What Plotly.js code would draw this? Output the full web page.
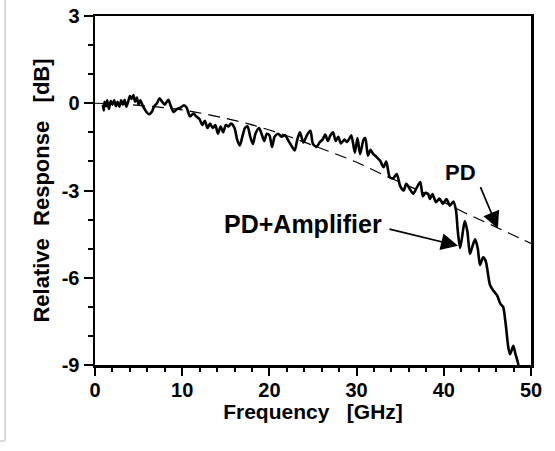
<!DOCTYPE html>
<html>
<head>
<meta charset="utf-8">
<script src="https://cdn.plot.ly/plotly-3.0.1.min.js"></script>
<style>html,body{margin:0;padding:0;background:#fff}#chart{width:555px;height:451px}</style>
</head>
<body>
<div id="chart"></div>
<script>
// PD+Amplifier measured response
const ampFreq = [0.9,1.0,1.1,1.3,1.4,1.6,1.8,2.0,2.2,2.4,2.6,2.8,3.0,3.2,3.4,3.6,3.8,4.0,4.2,4.4,4.6,4.8,5.0,5.2,5.5,5.9,6.2,6.5,6.8,7.1,7.4,7.7,8.0,8.4,8.7,9.0,9.4,9.8,10.2,10.5,10.9,11.3,11.6,12.0,12.3,12.6,12.9,13.2,13.5,13.8,14.1,14.4,14.7,15.0,15.3,15.6,16.0,16.3,16.6,16.9,17.2,17.5,17.8,18.1,18.4,18.8,19.1,19.4,19.7,20.0,20.3,20.6,21.0,21.4,21.8,22.2,22.6,22.9,23.2,23.5,23.9,24.3,24.7,25.0,25.4,25.8,26.1,26.4,26.7,27.0,27.3,27.6,27.9,28.2,28.6,28.9,29.2,29.4,29.8,30.1,30.4,30.8,31.0,31.3,31.6,31.9,32.3,32.7,33.1,33.4,33.8,34.2,34.6,35.0,35.4,35.7,36.1,36.5,36.9,37.3,37.6,37.9,38.2,38.4,38.7,39.1,39.5,39.9,40.3,40.7,41.1,41.4,41.6,41.86,42.1,42.4,42.7,43.0,43.3,43.6,43.9,44.15,44.5,44.8,45.3,45.7,46.1,46.5,46.8,47.1,47.4,47.6,47.97,48.2,48.5,48.6];
const ampResp = [-0.05,-0.25,0.05,-0.1,0.1,-0.2,0.08,-0.05,0.1,-0.1,0.05,-0.12,0.1,-0.05,0.12,-0.12,0.05,0.25,0.15,0.28,0.05,0.2,-0.05,0.1,-0.1,-0.3,-0.38,-0.3,-0.1,0.0,0.17,0.05,-0.05,0.12,-0.1,-0.3,-0.2,-0.15,-0.07,-0.15,-0.45,-0.35,-0.45,-0.55,-0.75,-0.6,-0.85,-0.7,-0.85,-0.75,-1.05,-0.8,-1.0,-0.75,-0.8,-0.7,-0.85,-1.25,-1.45,-1.15,-0.85,-0.8,-1.15,-1.4,-1.05,-0.85,-1.05,-1.3,-1.05,-1.1,-1.5,-1.15,-1.05,-1.15,-1.1,-1.3,-1.5,-1.62,-1.25,-1.0,-1.35,-1.1,-0.95,-1.4,-1.5,-1.33,-1.25,-1.08,-1.3,-1.1,-1.0,-1.3,-1.15,-1.38,-1.25,-1.33,-1.2,-1.1,-1.7,-1.2,-1.75,-1.25,-1.2,-1.8,-1.6,-1.74,-1.85,-1.98,-2.2,-2.0,-2.54,-2.58,-2.43,-2.85,-3.0,-2.77,-2.95,-3.11,-2.9,-2.71,-3.2,-3.08,-3.12,-3.29,-3.12,-3.4,-3.28,-3.46,-3.29,-3.52,-3.38,-3.69,-4.38,-4.98,-4.6,-4.05,-4.4,-5.18,-4.9,-4.68,-5.0,-5.56,-5.3,-5.42,-6.25,-6.45,-6.6,-6.9,-7.0,-7.6,-8.4,-8.63,-8.34,-8.6,-8.92,-9.1];

// PD alone (dashed)
const pdFreq = [0,2.5,5,7.5,10,12.5,15,17.5,20,22.5,25,27.5,30,32.5,35,37.5,40,42.5,45,47.5,50];
const pdResp = [0,-0.02,-0.07,-0.14,-0.23,-0.36,-0.52,-0.7,-0.92,-1.17,-1.45,-1.73,-2.03,-2.38,-2.72,-3.05,-3.4,-3.78,-4.12,-4.47,-4.82];

const xTickVals = [0,10,20,30,40,50];
const xTickText = ["0","10","20","30","40","50"];
const yTickVals = [3,0,-3,-6,-9];
const yTickText = ["3","0","-3","-6","-9"];
const labelPD = "PD";
const labelAmp = "PD+Amplifier";

const FONT = "Liberation Sans, Arial, sans-serif";

const traces = [
  {x: pdFreq, y: pdResp, mode: "lines", line: {color: "#000", width: 1.2, dash: "12px,7px", shape: "spline"}, hoverinfo: "skip"},
  {x: ampFreq, y: ampResp, mode: "lines", line: {color: "#000", width: 2.6, shape: "spline", smoothing: 0.7}, hoverinfo: "skip"}
];

const layout = {
  width: 555, height: 451,
  margin: {l: 95, r: 24, t: 16, b: 86},
  paper_bgcolor: "#fff", plot_bgcolor: "#fff",
  showlegend: false,
  font: {family: FONT, color: "#000"},
  xaxis: {
    range: [0, 50], tickvals: xTickVals, ticktext: xTickText, ticks: "outside", ticklen: 8, tickwidth: 2, tickcolor: "#000",
    minor: {dtick: 2, ticks: "outside", ticklen: 4, tickwidth: 2, tickcolor: "#000", showgrid: false},
    showgrid: false, zeroline: false, showline: true, linewidth: 2.5, linecolor: "#000", mirror: true,
    tickfont: {family: FONT, size: 20, weight: "bold"}, ticklabelstandoff: -3,
    title: {text: "Frequency\u00a0\u00a0\u00a0[GHz]", font: {family: FONT, size: 21, weight: "bold"}, standoff: 4}
  },
  yaxis: {
    range: [-9, 3], tickvals: yTickVals, ticktext: yTickText, ticks: "outside", ticklen: 9, tickwidth: 2, tickcolor: "#000",
    minor: {dtick: 1, ticks: "outside", ticklen: 5, tickwidth: 2, tickcolor: "#000", showgrid: false},
    showgrid: false, zeroline: false, showline: true, linewidth: 2.5, linecolor: "#000", mirror: true,
    tickfont: {family: FONT, size: 20, weight: "bold"}, ticklabelstandoff: 0,
    title: {text: "Relative\u00a0\u00a0Response\u00a0\u00a0\u00a0[dB]", font: {family: FONT, size: 22, weight: "bold"}, standoff: 6}
  },
  annotations: [
    {x: 41.86, y: -2.38, xref: "x", yref: "y", text: labelPD, showarrow: false, font: {family: FONT, size: 22, weight: "bold"}},
    {x: 46.2, y: -4.31, xref: "x", yref: "y", ax: -18, ay: -43, text: "", showarrow: true, arrowhead: 2, arrowsize: 2, arrowwidth: 1.7, arrowcolor: "#000"},
    {x: 23.85, y: -4.14, xref: "x", yref: "y", text: labelAmp, showarrow: false, font: {family: FONT, size: 25, weight: "bold"}},
    {x: 41.63, y: -4.9, xref: "x", yref: "y", ax: -70, ay: -17, text: "", showarrow: true, arrowhead: 2, arrowsize: 2, arrowwidth: 1.7, arrowcolor: "#000"}
  ],
  shapes: [
    {type: "line", xref: "paper", yref: "paper", x0: -0.2064, x1: -0.2064, y0: 1.046, y1: -0.2178, line: {color: "#cfcfcf", width: 1.5}},
    {type: "line", xref: "paper", yref: "paper", x0: -0.22, x1: -0.2064, y0: -0.2178, y1: -0.2178, line: {color: "#cfcfcf", width: 1.5}}
  ]
};

Plotly.newPlot("chart", traces, layout, {staticPlot: true, displayModeBar: false});
</script>
</body>
</html>
